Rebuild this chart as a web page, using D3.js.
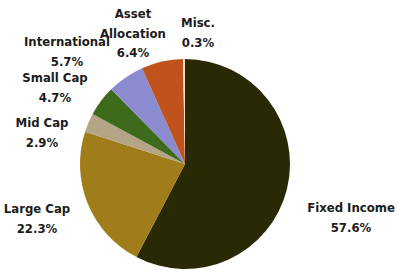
<!DOCTYPE html>
<html>
<head>
<meta charset="utf-8">
<script src="https://cdn.jsdelivr.net/npm/d3@7"></script>
<style>
  body { margin: 0; background: #fff; }
  svg text { font-family: "DejaVu Sans Condensed", "DejaVu Sans", sans-serif; font-stretch: condensed; font-weight: bold; fill: #1c1c1c; }
</style>
</head>
<body>
<script>
// Data
const categories = ["Fixed Income", "Large Cap", "Mid Cap", "Small Cap", "International", "Asset Allocation", "Misc."]
const values     = [57.6, 22.3, 2.9, 4.7, 5.7, 6.4, 0.3]
const colors     = ["#2a2905", "#a07d1a", "#b3a586", "#3e6a1b", "#8b8ccf", "#c0521c", "#efe6cc"]
// Label text lines (name lines + value)
const labelLines = [["Fixed Income"], ["Large Cap"], ["Mid Cap"], ["Small Cap"], ["International"], ["Asset", "Allocation"], ["Misc."]]
// Label anchor (center x, first baseline y)
const labelAt = [[351, 212], [37, 213], [42, 127], [55, 82], [67, 46], [133, 18], [198, 27]]

// Global variables
var width  = 397
var height = 273
var cx = 185, cy = 164, radius = 105

let svg = d3.select('body')
            .append('svg')
            .attr('width', width)
            .attr('height', height)

let pie = d3.pie().sort(null).value(d => d)
let arc = d3.arc().innerRadius(0).outerRadius(radius)

let slices = svg.append('g')
                .attr('transform', `translate(${cx},${cy})`)
                .selectAll('path')
                .data(pie(values))
                .enter()
                .append('path')
                .attr('d', arc)
                .attr('fill', (d, i) => colors[i])

// Labels
let labels = svg.append('g')
                .selectAll('text')
                .data(categories)
                .enter()
                .append('text')
                .attr('text-anchor', 'middle')
                .style('font-size', '13px')
                .attr('x', (d, i) => labelAt[i][0])
                .attr('y', (d, i) => labelAt[i][1])

labels.each(function(d, i){
    let t = d3.select(this)
    let lines = labelLines[i].concat([d3.format('.1f')(values[i]) + '%'])
    lines.forEach((l, j) => {
        t.append('tspan')
         .attr('x', labelAt[i][0])
         .attr('dy', j == 0 ? 0 : 19.5)
         .text(l)
    })
})
</script>
</body>
</html>
